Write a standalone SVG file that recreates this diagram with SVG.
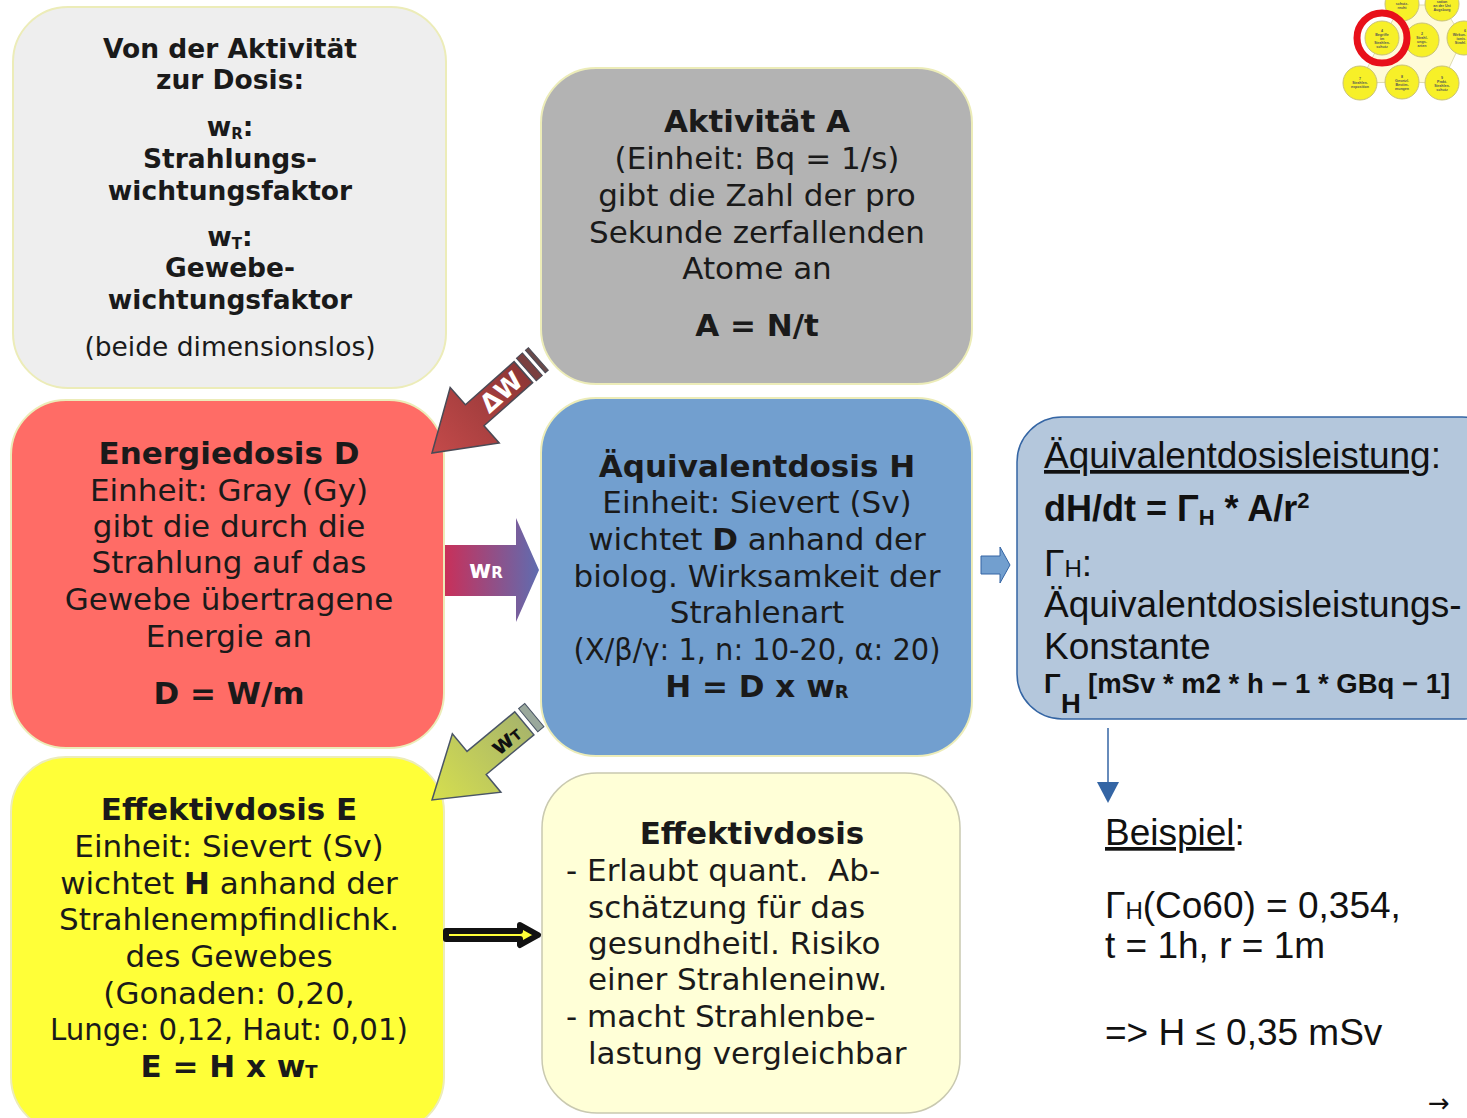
<svg xmlns="http://www.w3.org/2000/svg" width="1467" height="1118" viewBox="0 0 1467 1118">
<defs>
<style>
.dv{font-family:"DejaVu Sans",sans-serif;fill:#1a1a1a}
.b{font-weight:bold}
.c{text-anchor:middle}
.ls{font-family:"Liberation Sans",Arial,sans-serif;fill:#111}
.ic{font-family:"Liberation Sans",Arial,sans-serif;font-size:3.6px;font-weight:bold;fill:#555;text-anchor:middle}
.circ{fill:#f7f028;stroke:#c9c27a;stroke-width:1}
</style>
<linearGradient id="gR" x1="0" y1="0" x2="1" y2="0">
<stop offset="0" stop-color="#c8305a"/><stop offset="1" stop-color="#5f6cb0"/>
</linearGradient>
<linearGradient id="gW" x1="0" y1="0" x2="1" y2="0">
<stop offset="0" stop-color="#c44a4a"/><stop offset="1" stop-color="#8e3636"/>
</linearGradient>
<linearGradient id="gT" x1="0" y1="0" x2="1" y2="0">
<stop offset="0" stop-color="#d6df4e"/><stop offset="1" stop-color="#a9b66a"/>
</linearGradient>
</defs>
<rect width="1467" height="1118" fill="#fff"/>

<g id="nav-icon">
<path d="M1360,83 L1382,38 L1402,5 L1442,5 L1463,38 L1442,83 L1402,82 Z" fill="#fffbd8" stroke="#dedcb0" stroke-width="1"/>
<circle class="circ" cx="1402" cy="4" r="17"/>
<circle class="circ" cx="1442" cy="4" r="17"/>
<circle class="circ" cx="1382" cy="38" r="17"/>
<circle class="circ" cx="1422" cy="40" r="17"/>
<circle class="circ" cx="1464" cy="38" r="17"/>
<circle class="circ" cx="1360" cy="83" r="17"/>
<circle class="circ" cx="1402" cy="82" r="17"/>
<circle class="circ" cx="1442" cy="83" r="17"/>
<text class="ic" x="1402" y="5">schutz-</text><text class="ic" x="1402" y="9">recht</text>
<text class="ic" x="1442" y="3">sation</text><text class="ic" x="1442" y="7">an der Uni</text><text class="ic" x="1442" y="11">Augsburg</text>
<text class="ic" x="1382" y="32">4</text><text class="ic" x="1382" y="36">Begriffe</text><text class="ic" x="1382" y="40">im</text><text class="ic" x="1382" y="44">Strahlen-</text><text class="ic" x="1382" y="48">schutz</text>
<text class="ic" x="1422" y="35">2</text><text class="ic" x="1422" y="39">Strahl-</text><text class="ic" x="1422" y="43">ungs-</text><text class="ic" x="1422" y="47">arten</text>
<text class="ic" x="1466" y="32" style="text-anchor:end">6</text><text class="ic" x="1466" y="36" style="text-anchor:end">Wirkun-</text><text class="ic" x="1466" y="40" style="text-anchor:end">ionis.</text><text class="ic" x="1466" y="44" style="text-anchor:end">Strahl.</text>
<text class="ic" x="1360" y="80">7</text><text class="ic" x="1360" y="84">Strahlen-</text><text class="ic" x="1360" y="88">exposition</text>
<text class="ic" x="1402" y="78">8</text><text class="ic" x="1402" y="82">Gesetzl.</text><text class="ic" x="1402" y="86">Bestim-</text><text class="ic" x="1402" y="90">mungen</text>
<text class="ic" x="1442" y="79">9</text><text class="ic" x="1442" y="83">Prakt.</text><text class="ic" x="1442" y="87">Strahlen-</text><text class="ic" x="1442" y="91">schutz</text>
<circle cx="1382" cy="38" r="25" fill="none" stroke="#e8101a" stroke-width="7"/>
</g>

<g id="node-aktivitaet-dosis">
<rect x="13" y="7" width="433" height="381" rx="55" fill="#eeeeee" stroke="#ececb8" stroke-width="2"/>
<text class="dv b c" font-size="26.5" x="230" y="58">Von der Aktivität</text>
<text class="dv b c" font-size="26.5" x="230" y="89">zur Dosis:</text>
<text class="dv b c" font-size="26.5" x="230" y="136">w<tspan font-size="15" dy="3">R</tspan><tspan dy="-3">:</tspan></text>
<text class="dv b c" font-size="26.5" x="230" y="168">Strahlungs-</text>
<text class="dv b c" font-size="26.5" x="230" y="200">wichtungsfaktor</text>
<text class="dv b c" font-size="26.5" x="230" y="246">w<tspan font-size="15" dy="3">T</tspan><tspan dy="-3">:</tspan></text>
<text class="dv b c" font-size="26.5" x="230" y="277">Gewebe-</text>
<text class="dv b c" font-size="26.5" x="230" y="309">wichtungsfaktor</text>
<text class="dv c" font-size="26.5" x="230" y="356">(beide dimensionslos)</text>
</g>

<g id="node-aktivitaet">
<rect x="541" y="68" width="431" height="316" rx="55" fill="#b3b3b3" stroke="#ececb8" stroke-width="2"/>
<text class="dv b c" font-size="31" x="757" y="132">Aktivität A</text>
<text class="dv c" font-size="31" x="757" y="169">(Einheit: Bq = 1/s)</text>
<text class="dv c" font-size="31" x="757" y="206">gibt die Zahl der pro</text>
<text class="dv c" font-size="31" x="757" y="243">Sekunde zerfallenden</text>
<text class="dv c" font-size="31" x="757" y="279">Atome an</text>
<text class="dv b c" font-size="31" x="757" y="336">A = N/t</text>
</g>

<g id="node-energiedosis">
<rect x="11" y="400" width="433" height="348" rx="55" fill="#ff6c66" stroke="#ececb8" stroke-width="2"/>
<text class="dv b c" font-size="31" x="229" y="464">Energiedosis D</text>
<text class="dv c" font-size="31" x="229" y="501">Einheit: Gray (Gy)</text>
<text class="dv c" font-size="31" x="229" y="537">gibt die durch die</text>
<text class="dv c" font-size="31" x="229" y="573">Strahlung auf das</text>
<text class="dv c" font-size="31" x="229" y="610">Gewebe übertragene</text>
<text class="dv c" font-size="31" x="229" y="647">Energie an</text>
<text class="dv b c" font-size="31" x="229" y="704">D = W/m</text>
</g>

<g id="node-aequivalentdosis">
<rect x="541" y="398" width="431" height="358" rx="55" fill="#729fcf" stroke="#ececb8" stroke-width="2"/>
<text class="dv b c" font-size="31" x="757" y="477">Äquivalentdosis H</text>
<text class="dv c" font-size="31" x="757" y="513">Einheit: Sievert (Sv)</text>
<text class="dv c" font-size="31" x="757" y="550">wichtet <tspan class="b">D</tspan> anhand der</text>
<text class="dv c" font-size="31" x="757" y="587">biolog. Wirksamkeit der</text>
<text class="dv c" font-size="31" x="757" y="623">Strahlenart</text>
<text class="dv c" font-size="31" x="757" y="660" textLength="367" lengthAdjust="spacingAndGlyphs">(X/β/γ: 1, n: 10-20, α: 20)</text>
<text class="dv b c" font-size="31" x="757" y="697">H = D x w<tspan font-size="18" dy="1">R</tspan></text>
</g>

<g id="node-effektivdosis-e">
<rect x="11" y="757" width="433" height="375" rx="55" fill="#ffff38" stroke="#ececb8" stroke-width="2"/>
<text class="dv b c" font-size="31" x="229" y="820">Effektivdosis E</text>
<text class="dv c" font-size="31" x="229" y="857">Einheit: Sievert (Sv)</text>
<text class="dv c" font-size="31" x="229" y="894">wichtet <tspan class="b">H</tspan> anhand der</text>
<text class="dv c" font-size="31" x="229" y="930">Strahlenempfindlichk.</text>
<text class="dv c" font-size="31" x="229" y="967">des Gewebes</text>
<text class="dv c" font-size="31" x="229" y="1004">(Gonaden: 0,20,</text>
<text class="dv c" font-size="31" x="229" y="1040" textLength="358" lengthAdjust="spacingAndGlyphs">Lunge: 0,12, Haut: 0,01)</text>
<text class="dv b c" font-size="31" x="229" y="1077">E = H x w<tspan font-size="18" dy="1">T</tspan></text>
</g>

<g id="node-effektivdosis">
<rect x="542" y="773" width="418" height="340" rx="55" fill="#ffffd7" stroke="#c9c9b0" stroke-width="1.5"/>
<text class="dv b c" font-size="31" x="752" y="844">Effektivdosis</text>
<text class="dv" font-size="31" x="566" y="881">- Erlaubt quant.&#160; Ab-</text>
<text class="dv" font-size="31" x="588" y="918">schätzung für das</text>
<text class="dv" font-size="31" x="588" y="954">gesundheitl. Risiko</text>
<text class="dv" font-size="31" x="588" y="990">einer Strahleneinw.</text>
<text class="dv" font-size="31" x="566" y="1027">- macht Strahlenbe-</text>
<text class="dv" font-size="31" x="588" y="1064">lastung vergleichbar</text>
</g>

<g id="node-leistung">
<rect x="1017" y="417" width="490" height="302" rx="45" fill="#b4c7dc" stroke="#3465a4" stroke-width="1.5"/>
<text class="ls" font-size="37" x="1044" y="468"><tspan text-decoration="underline">Äquivalentdosisleistung</tspan>:</text>
<text class="ls" font-size="36" font-weight="bold" x="1044" y="521">dH/dt = Γ<tspan font-size="22" dy="4">H</tspan><tspan dy="-4"> * A/r</tspan><tspan font-size="22" dy="-13">2</tspan></text>
<text class="ls" font-size="37" x="1044" y="576">Γ<tspan font-size="24" dy="1">H</tspan><tspan dy="-1">:</tspan></text>
<text class="ls" font-size="37" x="1044" y="617">Äquivalentdosisleistungs-</text>
<text class="ls" font-size="37" x="1044" y="659">Konstante</text>
<text class="ls" font-size="27.5" font-weight="bold" x="1044" y="693">Γ</text>
<text class="ls" font-size="27.5" font-weight="bold" x="1061" y="713">H</text>
<text class="ls" font-size="27.5" font-weight="bold" x="1088" y="693">[mSv * m2 * h − 1 * GBq − 1]</text>
</g>

<g id="node-beispiel">
<text class="ls" font-size="37" x="1105" y="845"><tspan text-decoration="underline">Beispiel</tspan>:</text>
<text class="ls" font-size="37" x="1105" y="918">Γ<tspan font-size="24" dy="1">H</tspan><tspan dy="-1">(Co60) = 0,354,</tspan></text>
<text class="ls" font-size="37" x="1105" y="958">t = 1h, r = 1m</text>
<text class="ls" font-size="37" x="1105" y="1045">=&gt; H ≤ 0,35 mSv</text>
</g>

<g id="connectors">
<!-- Delta W arrow -->
<g transform="translate(432,453) rotate(-41.5)">
<path d="M0,0 L57,-37 L57,-14 L122,-14 L122,14 L57,14 L57,37 Z" fill="url(#gW)" stroke="#4a4a55" stroke-width="1.5" transform="scale(-1,-1) rotate(180)"/>
<rect x="126" y="-15" width="8" height="30" fill="#7a4040" stroke="#4a4a55" stroke-width="1"/>
<rect x="138" y="-15" width="4" height="30" fill="#6a4a4a" stroke="#4a4a55" stroke-width="1"/>
<text class="dv b c" font-size="25" style="fill:#fff" x="92" y="9">ΔW</text>
</g>
<!-- wR arrow -->
<path d="M445,545 L516,545 L516,518 L539,570 L516,622 L516,596 L445,596 Z" fill="url(#gR)"/>
<text class="dv b" font-size="24" style="fill:#fff" x="469" y="578">w<tspan font-size="15">R</tspan></text>
<!-- wT arrow -->
<g transform="translate(432,800) rotate(-39.7)">
<path d="M0,0 L58,-38 L58,-15 L120,-15 L120,15 L58,15 L58,38 Z" fill="url(#gT)" stroke="#4a5566" stroke-width="1.5"/>
<rect x="125" y="-15" width="8" height="30" fill="#9aa89c" stroke="#4a5566" stroke-width="1"/>
<text class="dv b c" font-size="24" style="fill:#111" x="95" y="9">w<tspan font-size="14">T</tspan></text>
</g>
<!-- H to Effektivdosis double arrow -->
<path d="M446,931 L520,931 L520,925 L538,935 L520,945 L520,939 L446,939 Z" fill="#ffff38" stroke="#111" stroke-width="6" stroke-linejoin="round"/>
<!-- small block arrow to Leistung -->
<path d="M981,556 L1000,556 L1000,547 L1010,565 L1000,583 L1000,574 L981,574 Z" fill="#729fcf" stroke="#3465a4" stroke-width="1"/>
<!-- down arrow to Beispiel -->
<line x1="1108" y1="728" x2="1108" y2="784" stroke="#3465a4" stroke-width="1.5"/>
<path d="M1097,782 L1119,782 L1108,803 Z" fill="#3465a4"/>
<!-- next slide arrow -->
<text font-family="DejaVu Sans, sans-serif" font-size="26" fill="#111" x="1428" y="1112">→</text>
</g>
</svg>
